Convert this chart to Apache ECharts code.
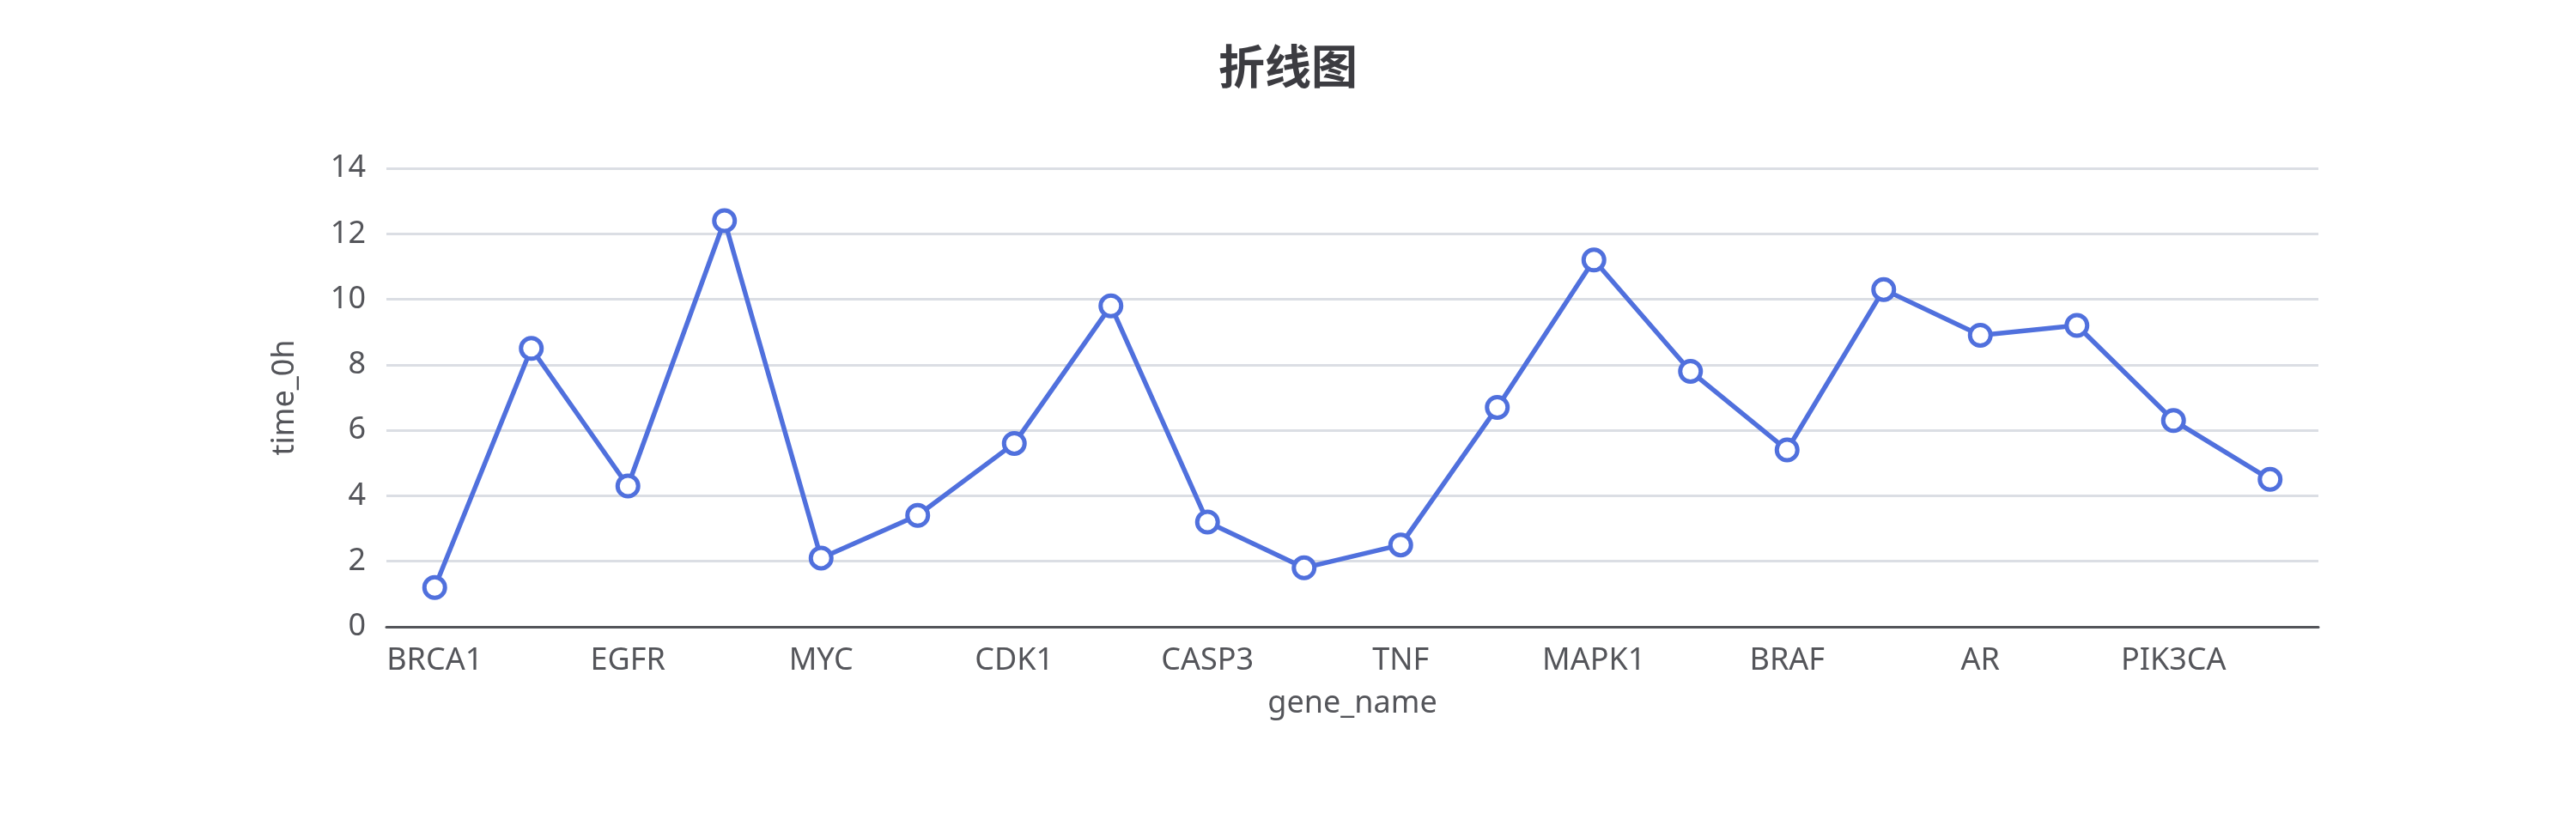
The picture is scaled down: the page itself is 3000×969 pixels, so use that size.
<!DOCTYPE html>
<html>
<head>
<meta charset="utf-8">
<script src="https://cdn.jsdelivr.net/npm/echarts@6/dist/echarts.min.js"></script>
<style>
html,body{margin:0;padding:0;background:#fff;}
#chart{width:3000px;height:969px;}
</style>
</head>
<body>
<div id="chart"></div>
<script>
var titleText = '折线图';
var xAxisName = 'gene_name';
var yAxisName = 'time_0h';
var categories = ['BRCA1','TP53','EGFR','KRAS','MYC','PTEN','CDK1','AKT1','CASP3','VEGFA','TNF','IL6','MAPK1','ERBB2','BRAF','STAT3','AR','MTOR','PIK3CA','JAK2'];
var values = [1.2, 8.5, 4.3, 12.4, 2.1, 3.4, 5.6, 9.8, 3.2, 1.8, 2.5, 6.7, 11.2, 7.8, 5.4, 10.3, 8.9, 9.2, 6.3, 4.5];
var yTicks = { min: 0, max: 14, interval: 2 };

var LINE_COLOR = '#5070dd';
var FONT = "'Noto Sans', 'Noto Sans CJK SC', sans-serif";
var chart = echarts.init(document.getElementById('chart'));
chart.setOption({
  animation: false,
  textStyle: { fontFamily: FONT },
  title: {
    text: titleText,
    left: 'center',
    top: 45,
    textStyle: { fontSize: 54, fontWeight: 'bold', fontFamily: "'Noto Sans CJK SC', 'Noto Sans', sans-serif" }
  },
  grid: { left: 450, right: 300, top: 196, bottom: 239, containLabel: false },
  xAxis: {
    type: 'category',
    data: categories,
    boundaryGap: true,
    name: xAxisName,
    nameLocation: 'middle',
    nameGap: 72,
    nameTextStyle: { fontSize: 36, fontFamily: FONT },
    axisLine: { lineStyle: { width: 3 } },
    axisTick: { show: false },
    axisLabel: { fontSize: 36, margin: 22, interval: 1, fontFamily: FONT }
  },
  yAxis: {
    type: 'value',
    min: yTicks.min,
    max: yTicks.max,
    interval: yTicks.interval,
    name: yAxisName,
    nameLocation: 'middle',
    nameGap: 100,
    nameTextStyle: { fontSize: 36, fontFamily: FONT },
    axisLabel: { fontSize: 36, margin: 24, fontFamily: FONT },
    splitLine: { lineStyle: { width: 3 } }
  },
  series: [{
    type: 'line',
    data: values,
    symbol: 'circle',
    symbolSize: 24,
    color: LINE_COLOR,
    lineStyle: { width: 5.5, color: LINE_COLOR },
    itemStyle: { color: '#ffffff', borderColor: LINE_COLOR, borderWidth: 5 }
  }]
});
</script>
</body>
</html>
